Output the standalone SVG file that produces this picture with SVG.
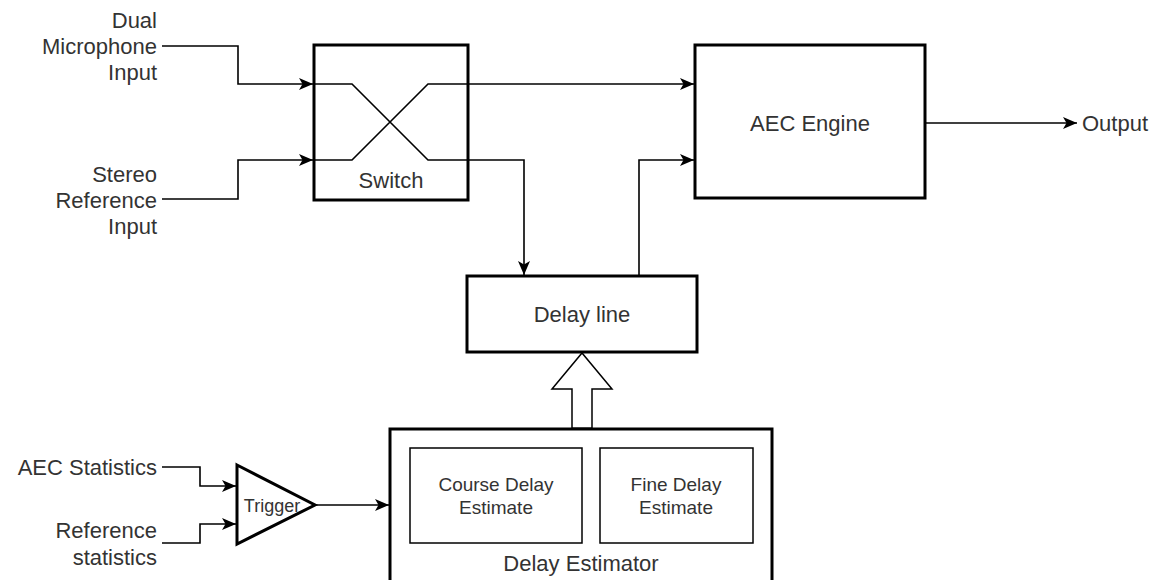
<svg xmlns="http://www.w3.org/2000/svg" width="1156" height="580" viewBox="0 0 1156 580">
<style>
text{font-family:"Liberation Sans",Arial,sans-serif;fill:#333;}
.lbl{font-size:22px;}
.r{text-anchor:end;}
.c{text-anchor:middle;}
.small{font-size:19px;}
.box{fill:#fff;stroke:#000;stroke-width:3;}
.inner{fill:#fff;stroke:#000;stroke-width:1.5;}
.wire{fill:none;stroke:#000;stroke-width:1.6;}
</style>
<defs>
<marker id="ah" viewBox="0 0 14 12" refX="14" refY="6" markerWidth="14" markerHeight="12" markerUnits="userSpaceOnUse" orient="auto">
<path d="M0,0 L14,6 L0,12 L3.5,6 Z" fill="#000"/>
</marker>
</defs>
<rect width="1156" height="580" fill="#fff"/>
<g id="inputs-mic">
<text class="lbl r" x="157" y="28">Dual</text>
<text class="lbl r" x="157" y="54">Microphone</text>
<text class="lbl r" x="157" y="80">Input</text>
</g>
<g id="inputs-ref">
<text class="lbl r" x="157" y="182">Stereo</text>
<text class="lbl r" x="157" y="208">Reference</text>
<text class="lbl r" x="157" y="234">Input</text>
</g>
<g id="switch">
<rect class="box" x="314" y="45" width="154" height="155"/>
<path class="wire" d="M314,84 H352 L428,160 H468 M314,160 H352 L428,84 H468" stroke="#222"/>
<text class="lbl c" x="391" y="188">Switch</text>
</g>
<g id="aec-engine">
<rect class="box" x="695" y="45" width="230" height="153"/>
<text class="lbl c" x="810" y="131">AEC Engine</text>
</g>
<g id="output">
<text class="lbl" x="1082" y="131">Output</text>
</g>
<g id="delay-line">
<rect class="box" x="467" y="276" width="230" height="76"/>
<text class="lbl c" x="582" y="322">Delay line</text>
</g>
<g id="delay-estimator">
<rect class="box" x="390" y="429" width="382" height="170"/>
<text class="lbl c" x="581" y="571">Delay Estimator</text>
</g>
<g id="course-delay">
<rect class="inner" x="410" y="448" width="172" height="95"/>
<text class="small c" x="496" y="491">Course Delay</text>
<text class="small c" x="496" y="514">Estimate</text>
</g>
<g id="fine-delay">
<rect class="inner" x="600" y="448" width="153" height="95"/>
<text class="small c" x="676" y="491">Fine Delay</text>
<text class="small c" x="676" y="514">Estimate</text>
</g>
<g id="trigger">
<polygon points="237,465 315,505 237,544" fill="#fff" stroke="#000" stroke-width="3"/>
<text class="c" x="272" y="512" font-size="18">Trigger</text>
</g>
<g id="stats-aec">
<text class="lbl r" x="157" y="475">AEC Statistics</text>
</g>
<g id="stats-ref">
<text class="lbl r" x="157" y="538">Reference</text>
<text class="lbl r" x="157" y="565">statistics</text>
</g>
<g id="connectors">
<path class="wire" d="M162,46 H238 V84 H313" marker-end="url(#ah)"/>
<path class="wire" d="M162,199 H238 V160 H313" marker-end="url(#ah)"/>
<path class="wire" d="M468,84 H694" marker-end="url(#ah)"/>
<path class="wire" d="M468,160 H524 V275" marker-end="url(#ah)"/>
<path class="wire" d="M639,276 V160 H694" marker-end="url(#ah)"/>
<path class="wire" d="M925,123 H1077" marker-end="url(#ah)"/>
<path class="wire" d="M162,467 H200 V486 H236" marker-end="url(#ah)"/>
<path class="wire" d="M162,543 H200 V524 H236" marker-end="url(#ah)"/>
<path class="wire" d="M315,505 H389" marker-end="url(#ah)"/>
<polygon points="572,428 572,389 552,389 582,353 612,389 592,389 592,428" fill="#fff" stroke="#000" stroke-width="1.5"/>
</g>
</svg>
